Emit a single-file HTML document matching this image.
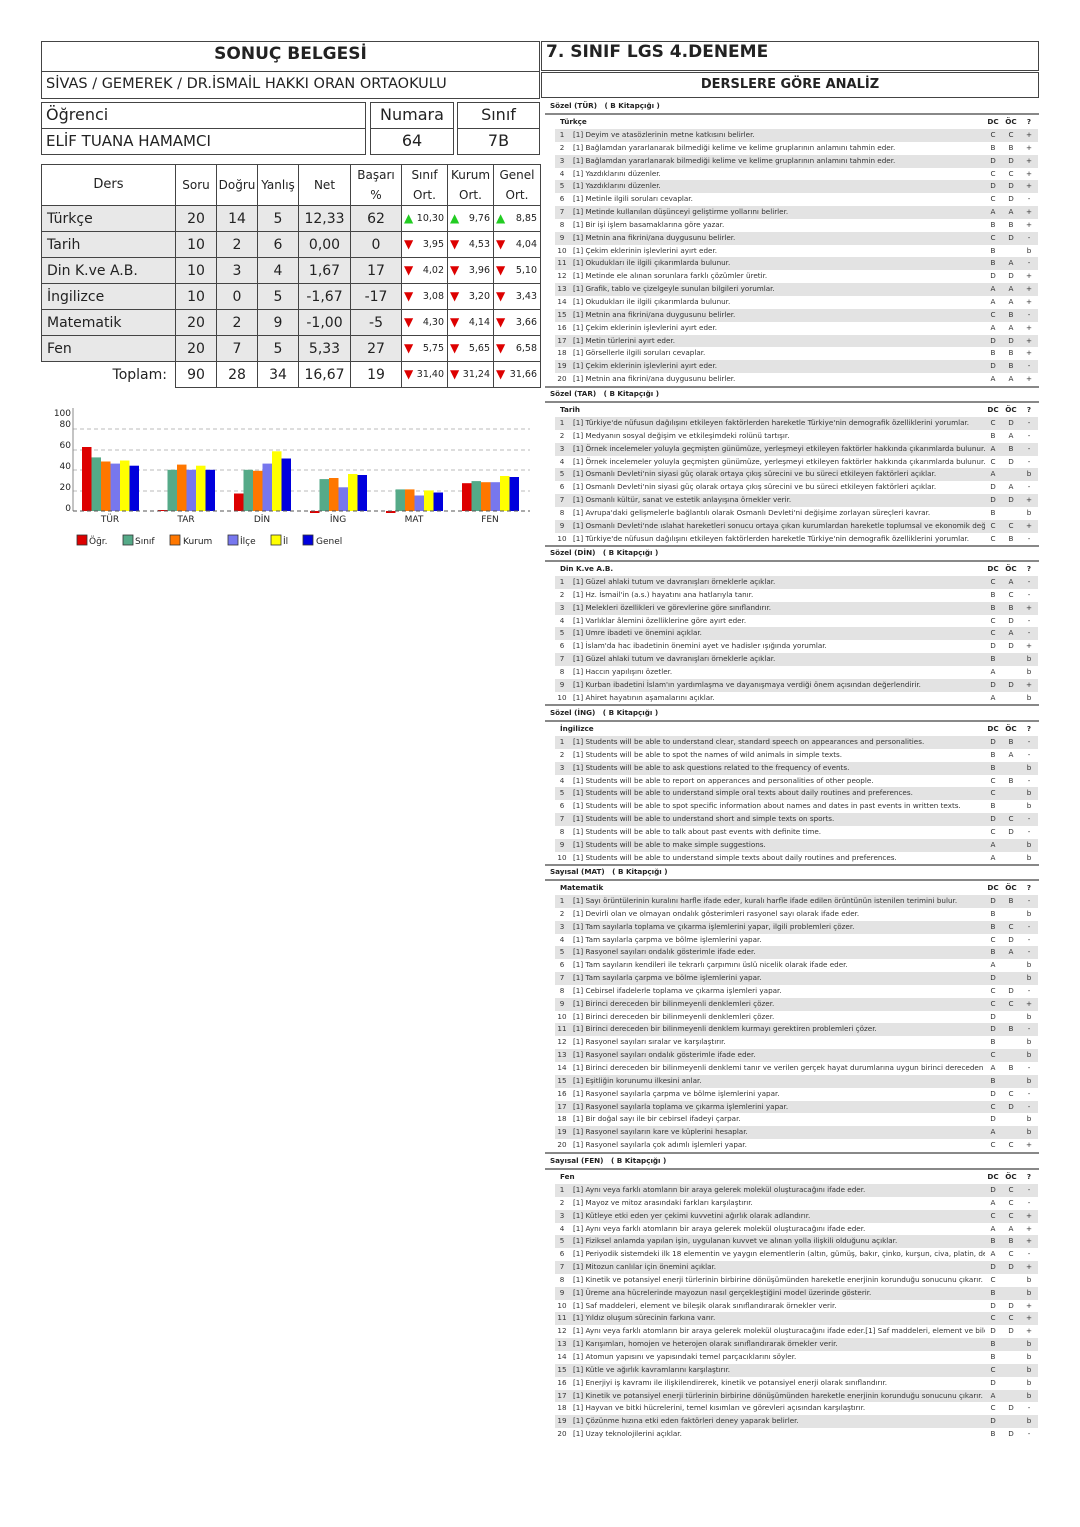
<!DOCTYPE html>
<html><head><meta charset="utf-8">
<style>
body{margin:0;width:1080px;height:1527px;background:#fff;position:relative;font-family:"DejaVu Sans","Liberation Sans",sans-serif;color:#222;overflow:hidden}
.a{position:absolute;box-sizing:border-box}
.bx{border:1.5px solid #444}
table.m{position:absolute;left:41px;top:164px;width:499px;border-collapse:collapse;table-layout:fixed}
table.m tr{height:26px}
table.m tr.hd{height:41px}
table.m td{border:1.5px solid #444;text-align:center;font-size:14px;padding:0;background:#e8e8e8}
table.m tr.hd td{background:#fff;font-size:12px;line-height:20px}
table.m td.o{background:#fff;font-size:9.5px;text-align:right;padding-right:3px;position:relative}
table.m td.l{text-align:left;padding-left:5px}
.u{position:absolute;left:2px;top:5px;color:#2c2;font-size:12px}
.d{position:absolute;left:2px;top:5px;color:#d00;font-size:12px}
.s{position:absolute;left:545px;width:494px;font-size:7.2px;color:#333}
.s .t{height:14px;line-height:14px;font-weight:bold;padding-left:5px;color:#222;border-bottom:2px solid #888}
.s .h{height:14px;line-height:14px;position:relative;font-weight:bold;color:#222}
.s .rw{border-bottom:2px solid #888}
.s p{position:relative;height:12.85px;line-height:12.85px;margin:0}
.s p:nth-child(odd){background:linear-gradient(to right,transparent 10px,#e3e3e3 10px,#e3e3e3 493px,transparent 493px)}
.s i{position:absolute;left:10px;width:14px;text-align:center;font-style:normal}
.s span{position:absolute;left:28px;width:412px;overflow:hidden;white-space:nowrap}
.s b{position:absolute;width:14px;text-align:center;font-weight:normal}
.s .h b{font-weight:bold}
.s b:nth-of-type(1){left:441px}.s b:nth-of-type(2){left:459px}.s b:nth-of-type(3){left:477px}
.s .h em{position:absolute;left:15px;font-style:normal}
</style></head><body>

<div class="a bx" style="left:41px;top:41px;width:499px;height:58px"></div>
<div class="a" style="left:41px;top:71px;width:499px;border-top:1.5px solid #444"></div>
<div class="a" style="left:41px;top:44px;width:499px;text-align:center;font-weight:bold;font-size:17px">SONUÇ BELGESİ</div>
<div class="a" style="left:46px;top:76px;font-size:14.5px">SİVAS / GEMEREK / DR.İSMAİL HAKKI ORAN ORTAOKULU</div>

<div class="a bx" style="left:541px;top:41px;width:498px;height:30px"></div>
<div class="a" style="left:546px;top:42px;font-weight:bold;font-size:17px">7. SINIF LGS 4.DENEME</div>
<div class="a bx" style="left:541px;top:72px;width:498px;height:26px"></div>
<div class="a" style="left:541px;top:77px;width:498px;text-align:center;font-weight:bold;font-size:13px">DERSLERE GÖRE ANALİZ</div>

<div class="a bx" style="left:41px;top:102px;width:325px;height:53px"></div>
<div class="a" style="left:41px;top:128px;width:325px;border-top:1.5px solid #444"></div>
<div class="a" style="left:46px;top:105px;font-size:16px">Öğrenci</div>
<div class="a" style="left:46px;top:132px;font-size:15px">ELİF TUANA HAMAMCI</div>
<div class="a bx" style="left:370px;top:102px;width:84px;height:53px"></div>
<div class="a" style="left:370px;top:128px;width:84px;border-top:1.5px solid #444"></div>
<div class="a" style="left:370px;top:105px;width:84px;text-align:center;font-size:16px">Numara</div>
<div class="a" style="left:370px;top:131px;width:84px;text-align:center;font-size:16px">64</div>
<div class="a bx" style="left:457px;top:102px;width:83px;height:53px"></div>
<div class="a" style="left:457px;top:128px;width:83px;border-top:1.5px solid #444"></div>
<div class="a" style="left:457px;top:105px;width:83px;text-align:center;font-size:16px">Sınıf</div>
<div class="a" style="left:457px;top:131px;width:83px;text-align:center;font-size:16px">7B</div>

<table class="m">
<colgroup><col style="width:134px"><col style="width:41px"><col style="width:41px"><col style="width:41px"><col style="width:52px"><col style="width:51px"><col style="width:46px"><col style="width:46px"><col style="width:47px"></colgroup>
<tr class="hd"><td style="font-size:13px">Ders</td><td>Soru</td><td>Doğru</td><td>Yanlış</td><td>Net</td><td>Başarı<br>%</td><td>Sınıf<br>Ort.</td><td>Kurum<br>Ort.</td><td>Genel<br>Ort.</td></tr>
<tr><td class="l">Türkçe</td><td>20</td><td>14</td><td>5</td><td>12,33</td><td>62</td><td class="o"><span class="u">▲</span>10,30</td><td class="o"><span class="u">▲</span>9,76</td><td class="o"><span class="u">▲</span>8,85</td></tr>
<tr><td class="l">Tarih</td><td>10</td><td>2</td><td>6</td><td>0,00</td><td>0</td><td class="o"><span class="d">▼</span>3,95</td><td class="o"><span class="d">▼</span>4,53</td><td class="o"><span class="d">▼</span>4,04</td></tr>
<tr><td class="l">Din K.ve A.B.</td><td>10</td><td>3</td><td>4</td><td>1,67</td><td>17</td><td class="o"><span class="d">▼</span>4,02</td><td class="o"><span class="d">▼</span>3,96</td><td class="o"><span class="d">▼</span>5,10</td></tr>
<tr><td class="l">İngilizce</td><td>10</td><td>0</td><td>5</td><td>-1,67</td><td>-17</td><td class="o"><span class="d">▼</span>3,08</td><td class="o"><span class="d">▼</span>3,20</td><td class="o"><span class="d">▼</span>3,43</td></tr>
<tr><td class="l">Matematik</td><td>20</td><td>2</td><td>9</td><td>-1,00</td><td>-5</td><td class="o"><span class="d">▼</span>4,30</td><td class="o"><span class="d">▼</span>4,14</td><td class="o"><span class="d">▼</span>3,66</td></tr>
<tr><td class="l">Fen</td><td>20</td><td>7</td><td>5</td><td>5,33</td><td>27</td><td class="o"><span class="d">▼</span>5,75</td><td class="o"><span class="d">▼</span>5,65</td><td class="o"><span class="d">▼</span>6,58</td></tr>
<tr><td style="border:none;background:#fff;text-align:right;padding-right:8px">Toplam:</td><td style="background:#fff">90</td><td style="background:#fff">28</td><td style="background:#fff">34</td><td style="background:#fff">16,67</td><td style="background:#fff">19</td><td class="o"><span class="d">▼</span>31,40</td><td class="o"><span class="d">▼</span>31,24</td><td class="o"><span class="d">▼</span>31,66</td></tr>
</table>

<svg class="a" style="left:0;top:0" width="540" height="560" font-family="DejaVu Sans, sans-serif">
<g stroke="#bbb" stroke-dasharray="4,3" stroke-width="1">
<line x1="73" y1="429" x2="530" y2="429"/><line x1="73" y1="450" x2="530" y2="450"/><line x1="73" y1="470" x2="530" y2="470"/><line x1="73" y1="491" x2="530" y2="491"/>
</g>
<g font-size="9" fill="#222" text-anchor="end">
<text x="71" y="416">100</text><text x="71" y="427">80</text><text x="71" y="448">60</text><text x="71" y="469">40</text><text x="71" y="490">20</text><text x="71" y="511">0</text>
</g>
<g>
<rect x="82" y="447" width="9.5" height="64" fill="#dd0000"/><rect x="91.5" y="457.4" width="9.5" height="53.6" fill="#55aa88"/><rect x="101" y="461.5" width="9.5" height="49.5" fill="#ff7700"/><rect x="110.5" y="463.6" width="9.5" height="47.4" fill="#7777ee"/><rect x="120" y="460.5" width="9.5" height="50.5" fill="#ffff00"/><rect x="129.5" y="465.7" width="9.5" height="45.3" fill="#0000dd"/>
<rect x="158" y="510" width="9.5" height="1" fill="#dd0000"/><rect x="167.5" y="469.8" width="9.5" height="41.2" fill="#55aa88"/><rect x="177" y="464.6" width="9.5" height="46.4" fill="#ff7700"/><rect x="186.5" y="469.8" width="9.5" height="41.2" fill="#7777ee"/><rect x="196" y="465.7" width="9.5" height="45.3" fill="#ffff00"/><rect x="205.5" y="469.8" width="9.5" height="41.2" fill="#0000dd"/>
<rect x="234" y="493.5" width="9.5" height="17.5" fill="#dd0000"/><rect x="243.5" y="469.8" width="9.5" height="41.2" fill="#55aa88"/><rect x="253" y="470.8" width="9.5" height="40.2" fill="#ff7700"/><rect x="262.5" y="463.6" width="9.5" height="47.4" fill="#7777ee"/><rect x="272" y="451.3" width="9.5" height="59.7" fill="#ffff00"/><rect x="281.5" y="458.5" width="9.5" height="52.5" fill="#0000dd"/>
<rect x="310" y="511" width="9.5" height="2" fill="#dd0000"/><rect x="319.5" y="479.1" width="9.5" height="31.9" fill="#55aa88"/><rect x="329" y="478" width="9.5" height="33" fill="#ff7700"/><rect x="338.5" y="487.3" width="9.5" height="23.7" fill="#7777ee"/><rect x="348" y="474" width="9.5" height="37" fill="#ffff00"/><rect x="357.5" y="475" width="9.5" height="36" fill="#0000dd"/>
<rect x="386" y="511" width="9.5" height="2" fill="#dd0000"/><rect x="395.5" y="489.4" width="9.5" height="21.6" fill="#55aa88"/><rect x="405" y="489.4" width="9.5" height="21.6" fill="#ff7700"/><rect x="414.5" y="495.5" width="9.5" height="15.5" fill="#7777ee"/><rect x="424" y="490.4" width="9.5" height="20.6" fill="#ffff00"/><rect x="433.5" y="492.5" width="9.5" height="18.5" fill="#0000dd"/>
<rect x="462" y="483.2" width="9.5" height="27.8" fill="#dd0000"/><rect x="471.5" y="481.1" width="9.5" height="29.9" fill="#55aa88"/><rect x="481" y="482.2" width="9.5" height="28.8" fill="#ff7700"/><rect x="490.5" y="482.2" width="9.5" height="28.8" fill="#7777ee"/><rect x="500" y="476" width="9.5" height="35" fill="#ffff00"/><rect x="509.5" y="477" width="9.5" height="34" fill="#0000dd"/>
</g>
<line x1="73" y1="408" x2="73" y2="511" stroke="#888" stroke-width="1"/>
<line x1="73" y1="511" x2="530" y2="511" stroke="#555" stroke-dasharray="4,3" stroke-width="1"/>
<g font-size="9" fill="#222" text-anchor="middle">
<text x="110" y="522">TÜR</text><text x="186" y="522">TAR</text><text x="262" y="522">DİN</text><text x="338" y="522">İNG</text><text x="414" y="522">MAT</text><text x="490" y="522">FEN</text>
</g>
<g stroke="#333" stroke-width="0.8">
<rect x="77" y="535" width="10" height="10" fill="#dd0000"/><rect x="123" y="535" width="10" height="10" fill="#55aa88"/><rect x="170" y="535" width="10" height="10" fill="#ff7700"/><rect x="228" y="535" width="10" height="10" fill="#7777ee"/><rect x="271" y="535" width="10" height="10" fill="#ffff00"/><rect x="303" y="535" width="10" height="10" fill="#0000dd"/>
</g>
<g font-size="9" fill="#222">
<text x="89" y="544">Öğr.</text><text x="135" y="544">Sınıf</text><text x="183" y="544">Kurum</text><text x="240" y="544">İlçe</text><text x="283" y="544">İl</text><text x="316" y="544">Genel</text>
</g>
</svg>

<div class="s" style="top:99px"><div class="t">Sözel (TÜR) &nbsp; ( B Kitapçığı )</div><div class="h"><em>Türkçe</em><b>DC</b><b>ÖC</b><b>?</b></div><div class="rw">
<p><i>1</i><span>[1] Deyim ve atasözlerinin metne katkısını belirler.</span><b>C</b><b>C</b><b>+</b></p>
<p><i>2</i><span>[1] Bağlamdan yararlanarak bilmediği kelime ve kelime gruplarının anlamını tahmin eder.</span><b>B</b><b>B</b><b>+</b></p>
<p><i>3</i><span>[1] Bağlamdan yararlanarak bilmediği kelime ve kelime gruplarının anlamını tahmin eder.</span><b>D</b><b>D</b><b>+</b></p>
<p><i>4</i><span>[1] Yazdıklarını düzenler.</span><b>C</b><b>C</b><b>+</b></p>
<p><i>5</i><span>[1] Yazdıklarını düzenler.</span><b>D</b><b>D</b><b>+</b></p>
<p><i>6</i><span>[1] Metinle ilgili soruları cevaplar.</span><b>C</b><b>D</b><b>-</b></p>
<p><i>7</i><span>[1] Metinde kullanılan düşünceyi geliştirme yollarını belirler.</span><b>A</b><b>A</b><b>+</b></p>
<p><i>8</i><span>[1] Bir işi işlem basamaklarına göre yazar.</span><b>B</b><b>B</b><b>+</b></p>
<p><i>9</i><span>[1] Metnin ana fikrini/ana duygusunu belirler.</span><b>C</b><b>D</b><b>-</b></p>
<p><i>10</i><span>[1] Çekim eklerinin işlevlerini ayırt eder.</span><b>B</b><b></b><b>b</b></p>
<p><i>11</i><span>[1] Okudukları ile ilgili çıkarımlarda bulunur.</span><b>B</b><b>A</b><b>-</b></p>
<p><i>12</i><span>[1] Metinde ele alınan sorunlara farklı çözümler üretir.</span><b>D</b><b>D</b><b>+</b></p>
<p><i>13</i><span>[1] Grafik, tablo ve çizelgeyle sunulan bilgileri yorumlar.</span><b>A</b><b>A</b><b>+</b></p>
<p><i>14</i><span>[1] Okudukları ile ilgili çıkarımlarda bulunur.</span><b>A</b><b>A</b><b>+</b></p>
<p><i>15</i><span>[1] Metnin ana fikrini/ana duygusunu belirler.</span><b>C</b><b>B</b><b>-</b></p>
<p><i>16</i><span>[1] Çekim eklerinin işlevlerini ayırt eder.</span><b>A</b><b>A</b><b>+</b></p>
<p><i>17</i><span>[1] Metin türlerini ayırt eder.</span><b>D</b><b>D</b><b>+</b></p>
<p><i>18</i><span>[1] Görsellerle ilgili soruları cevaplar.</span><b>B</b><b>B</b><b>+</b></p>
<p><i>19</i><span>[1] Çekim eklerinin işlevlerini ayırt eder.</span><b>D</b><b>B</b><b>-</b></p>
<p><i>20</i><span>[1] Metnin ana fikrini/ana duygusunu belirler.</span><b>A</b><b>A</b><b>+</b></p>
</div></div>

<div class="s" style="top:387px"><div class="t">Sözel (TAR) &nbsp; ( B Kitapçığı )</div><div class="h"><em>Tarih</em><b>DC</b><b>ÖC</b><b>?</b></div><div class="rw">
<p><i>1</i><span>[1] Türkiye'de nüfusun dağılışını etkileyen faktörlerden hareketle Türkiye'nin demografik özelliklerini yorumlar.</span><b>C</b><b>D</b><b>-</b></p>
<p><i>2</i><span>[1] Medyanın sosyal değişim ve etkileşimdeki rolünü tartışır.</span><b>B</b><b>A</b><b>-</b></p>
<p><i>3</i><span>[1] Örnek incelemeler yoluyla geçmişten günümüze, yerleşmeyi etkileyen faktörler hakkında çıkarımlarda bulunur.</span><b>A</b><b>B</b><b>-</b></p>
<p><i>4</i><span>[1] Örnek incelemeler yoluyla geçmişten günümüze, yerleşmeyi etkileyen faktörler hakkında çıkarımlarda bulunur.</span><b>C</b><b>D</b><b>-</b></p>
<p><i>5</i><span>[1] Osmanlı Devleti'nin siyasi güç olarak ortaya çıkış sürecini ve bu süreci etkileyen faktörleri açıklar.</span><b>A</b><b></b><b>b</b></p>
<p><i>6</i><span>[1] Osmanlı Devleti'nin siyasi güç olarak ortaya çıkış sürecini ve bu süreci etkileyen faktörleri açıklar.</span><b>D</b><b>A</b><b>-</b></p>
<p><i>7</i><span>[1] Osmanlı kültür, sanat ve estetik anlayışına örnekler verir.</span><b>D</b><b>D</b><b>+</b></p>
<p><i>8</i><span>[1] Avrupa'daki gelişmelerle bağlantılı olarak Osmanlı Devleti'ni değişime zorlayan süreçleri kavrar.</span><b>B</b><b></b><b>b</b></p>
<p><i>9</i><span>[1] Osmanlı Devleti'nde ıslahat hareketleri sonucu ortaya çıkan kurumlardan hareketle toplumsal ve ekonomik değişimi</span><b>C</b><b>C</b><b>+</b></p>
<p><i>10</i><span>[1] Türkiye'de nüfusun dağılışını etkileyen faktörlerden hareketle Türkiye'nin demografik özelliklerini yorumlar.</span><b>C</b><b>B</b><b>-</b></p>
</div></div>

<div class="s" style="top:546px"><div class="t">Sözel (DİN) &nbsp; ( B Kitapçığı )</div><div class="h"><em>Din K.ve A.B.</em><b>DC</b><b>ÖC</b><b>?</b></div><div class="rw">
<p><i>1</i><span>[1] Güzel ahlaki tutum ve davranışları örneklerle açıklar.</span><b>C</b><b>A</b><b>-</b></p>
<p><i>2</i><span>[1] Hz. İsmail'in (a.s.) hayatını ana hatlarıyla tanır.</span><b>B</b><b>C</b><b>-</b></p>
<p><i>3</i><span>[1] Melekleri özellikleri ve görevlerine göre sınıflandırır.</span><b>B</b><b>B</b><b>+</b></p>
<p><i>4</i><span>[1] Varlıklar âlemini özelliklerine göre ayırt eder.</span><b>C</b><b>D</b><b>-</b></p>
<p><i>5</i><span>[1] Umre ibadeti ve önemini açıklar.</span><b>C</b><b>A</b><b>-</b></p>
<p><i>6</i><span>[1] İslam'da hac ibadetinin önemini ayet ve hadisler ışığında yorumlar.</span><b>D</b><b>D</b><b>+</b></p>
<p><i>7</i><span>[1] Güzel ahlaki tutum ve davranışları örneklerle açıklar.</span><b>B</b><b></b><b>b</b></p>
<p><i>8</i><span>[1] Haccın yapılışını özetler.</span><b>A</b><b></b><b>b</b></p>
<p><i>9</i><span>[1] Kurban ibadetini İslam'ın yardımlaşma ve dayanışmaya verdiği önem açısından değerlendirir.</span><b>D</b><b>D</b><b>+</b></p>
<p><i>10</i><span>[1] Ahiret hayatının aşamalarını açıklar.</span><b>A</b><b></b><b>b</b></p>
</div></div>

<div class="s" style="top:706px"><div class="t">Sözel (İNG) &nbsp; ( B Kitapçığı )</div><div class="h"><em>İngilizce</em><b>DC</b><b>ÖC</b><b>?</b></div><div class="rw">
<p><i>1</i><span>[1] Students will be able to understand clear, standard speech on appearances and personalities.</span><b>D</b><b>B</b><b>-</b></p>
<p><i>2</i><span>[1] Students will be able to spot the names of wild animals in simple texts.</span><b>B</b><b>A</b><b>-</b></p>
<p><i>3</i><span>[1] Students will be able to ask questions related to the frequency of events.</span><b>B</b><b></b><b>b</b></p>
<p><i>4</i><span>[1] Students will be able to report on apperances and personalities of other people.</span><b>C</b><b>B</b><b>-</b></p>
<p><i>5</i><span>[1] Students will be able to understand simple oral texts about daily routines and preferences.</span><b>C</b><b></b><b>b</b></p>
<p><i>6</i><span>[1] Students will be able to spot specific information about names and dates in past events in written texts.</span><b>B</b><b></b><b>b</b></p>
<p><i>7</i><span>[1] Students will be able to understand short and simple texts on sports.</span><b>D</b><b>C</b><b>-</b></p>
<p><i>8</i><span>[1] Students will be able to talk about past events with definite time.</span><b>C</b><b>D</b><b>-</b></p>
<p><i>9</i><span>[1] Students will be able to make simple suggestions.</span><b>A</b><b></b><b>b</b></p>
<p><i>10</i><span>[1] Students will be able to understand simple texts about daily routines and preferences.</span><b>A</b><b></b><b>b</b></p>
</div></div>

<div class="s" style="top:865px"><div class="t">Sayısal (MAT) &nbsp; ( B Kitapçığı )</div><div class="h"><em>Matematik</em><b>DC</b><b>ÖC</b><b>?</b></div><div class="rw">
<p><i>1</i><span>[1] Sayı örüntülerinin kuralını harfle ifade eder, kuralı harfle ifade edilen örüntünün istenilen terimini bulur.</span><b>D</b><b>B</b><b>-</b></p>
<p><i>2</i><span>[1] Devirli olan ve olmayan ondalık gösterimleri rasyonel sayı olarak ifade eder.</span><b>B</b><b></b><b>b</b></p>
<p><i>3</i><span>[1] Tam sayılarla toplama ve çıkarma işlemlerini yapar, ilgili problemleri çözer.</span><b>B</b><b>C</b><b>-</b></p>
<p><i>4</i><span>[1] Tam sayılarla çarpma ve bölme işlemlerini yapar.</span><b>C</b><b>D</b><b>-</b></p>
<p><i>5</i><span>[1] Rasyonel sayıları ondalık gösterimle ifade eder.</span><b>B</b><b>A</b><b>-</b></p>
<p><i>6</i><span>[1] Tam sayıların kendileri ile tekrarlı çarpımını üslü nicelik olarak ifade eder.</span><b>A</b><b></b><b>b</b></p>
<p><i>7</i><span>[1] Tam sayılarla çarpma ve bölme işlemlerini yapar.</span><b>D</b><b></b><b>b</b></p>
<p><i>8</i><span>[1] Cebirsel ifadelerle toplama ve çıkarma işlemleri yapar.</span><b>C</b><b>D</b><b>-</b></p>
<p><i>9</i><span>[1] Birinci dereceden bir bilinmeyenli denklemleri çözer.</span><b>C</b><b>C</b><b>+</b></p>
<p><i>10</i><span>[1] Birinci dereceden bir bilinmeyenli denklemleri çözer.</span><b>D</b><b></b><b>b</b></p>
<p><i>11</i><span>[1] Birinci dereceden bir bilinmeyenli denklem kurmayı gerektiren problemleri çözer.</span><b>D</b><b>B</b><b>-</b></p>
<p><i>12</i><span>[1] Rasyonel sayıları sıralar ve karşılaştırır.</span><b>B</b><b></b><b>b</b></p>
<p><i>13</i><span>[1] Rasyonel sayıları ondalık gösterimle ifade eder.</span><b>C</b><b></b><b>b</b></p>
<p><i>14</i><span>[1] Birinci dereceden bir bilinmeyenli denklemi tanır ve verilen gerçek hayat durumlarına uygun birinci dereceden</span><b>A</b><b>B</b><b>-</b></p>
<p><i>15</i><span>[1] Eşitliğin korunumu ilkesini anlar.</span><b>B</b><b></b><b>b</b></p>
<p><i>16</i><span>[1] Rasyonel sayılarla çarpma ve bölme işlemlerini yapar.</span><b>D</b><b>C</b><b>-</b></p>
<p><i>17</i><span>[1] Rasyonel sayılarla toplama ve çıkarma işlemlerini yapar.</span><b>C</b><b>D</b><b>-</b></p>
<p><i>18</i><span>[1] Bir doğal sayı ile bir cebirsel ifadeyi çarpar.</span><b>D</b><b></b><b>b</b></p>
<p><i>19</i><span>[1] Rasyonel sayıların kare ve küplerini hesaplar.</span><b>A</b><b></b><b>b</b></p>
<p><i>20</i><span>[1] Rasyonel sayılarla çok adımlı işlemleri yapar.</span><b>C</b><b>C</b><b>+</b></p>
</div></div>

<div class="s" style="top:1154px"><div class="t">Sayısal (FEN) &nbsp; ( B Kitapçığı )</div><div class="h"><em>Fen</em><b>DC</b><b>ÖC</b><b>?</b></div><div class="rw" style="border-bottom:none">
<p><i>1</i><span>[1] Aynı veya farklı atomların bir araya gelerek molekül oluşturacağını ifade eder.</span><b>D</b><b>C</b><b>-</b></p>
<p><i>2</i><span>[1] Mayoz ve mitoz arasındaki farkları karşılaştırır.</span><b>A</b><b>C</b><b>-</b></p>
<p><i>3</i><span>[1] Kütleye etki eden yer çekimi kuvvetini ağırlık olarak adlandırır.</span><b>C</b><b>C</b><b>+</b></p>
<p><i>4</i><span>[1] Aynı veya farklı atomların bir araya gelerek molekül oluşturacağını ifade eder.</span><b>A</b><b>A</b><b>+</b></p>
<p><i>5</i><span>[1] Fiziksel anlamda yapılan işin, uygulanan kuvvet ve alınan yolla ilişkili olduğunu açıklar.</span><b>B</b><b>B</b><b>+</b></p>
<p><i>6</i><span>[1] Periyodik sistemdeki ilk 18 elementin ve yaygın elementlerin (altın, gümüş, bakır, çinko, kurşun, civa, platin, demir)</span><b>A</b><b>C</b><b>-</b></p>
<p><i>7</i><span>[1] Mitozun canlılar için önemini açıklar.</span><b>D</b><b>D</b><b>+</b></p>
<p><i>8</i><span>[1] Kinetik ve potansiyel enerji türlerinin birbirine dönüşümünden hareketle enerjinin korunduğu sonucunu çıkarır.</span><b>C</b><b></b><b>b</b></p>
<p><i>9</i><span>[1] Üreme ana hücrelerinde mayozun nasıl gerçekleştiğini model üzerinde gösterir.</span><b>B</b><b></b><b>b</b></p>
<p><i>10</i><span>[1] Saf maddeleri, element ve bileşik olarak sınıflandırarak örnekler verir.</span><b>D</b><b>D</b><b>+</b></p>
<p><i>11</i><span>[1] Yıldız oluşum sürecinin farkına varır.</span><b>C</b><b>C</b><b>+</b></p>
<p><i>12</i><span>[1] Aynı veya farklı atomların bir araya gelerek molekül oluşturacağını ifade eder.[1] Saf maddeleri, element ve bileşik</span><b>D</b><b>D</b><b>+</b></p>
<p><i>13</i><span>[1] Karışımları, homojen ve heterojen olarak sınıflandırarak örnekler verir.</span><b>B</b><b></b><b>b</b></p>
<p><i>14</i><span>[1] Atomun yapısını ve yapısındaki temel parçacıklarını söyler.</span><b>B</b><b></b><b>b</b></p>
<p><i>15</i><span>[1] Kütle ve ağırlık kavramlarını karşılaştırır.</span><b>C</b><b></b><b>b</b></p>
<p><i>16</i><span>[1] Enerjiyi iş kavramı ile ilişkilendirerek, kinetik ve potansiyel enerji olarak sınıflandırır.</span><b>D</b><b></b><b>b</b></p>
<p><i>17</i><span>[1] Kinetik ve potansiyel enerji türlerinin birbirine dönüşümünden hareketle enerjinin korunduğu sonucunu çıkarır.</span><b>A</b><b></b><b>b</b></p>
<p><i>18</i><span>[1] Hayvan ve bitki hücrelerini, temel kısımları ve görevleri açısından karşılaştırır.</span><b>C</b><b>D</b><b>-</b></p>
<p><i>19</i><span>[1] Çözünme hızına etki eden faktörleri deney yaparak belirler.</span><b>D</b><b></b><b>b</b></p>
<p><i>20</i><span>[1] Uzay teknolojilerini açıklar.</span><b>B</b><b>D</b><b>-</b></p>
</div></div>

</body></html>
